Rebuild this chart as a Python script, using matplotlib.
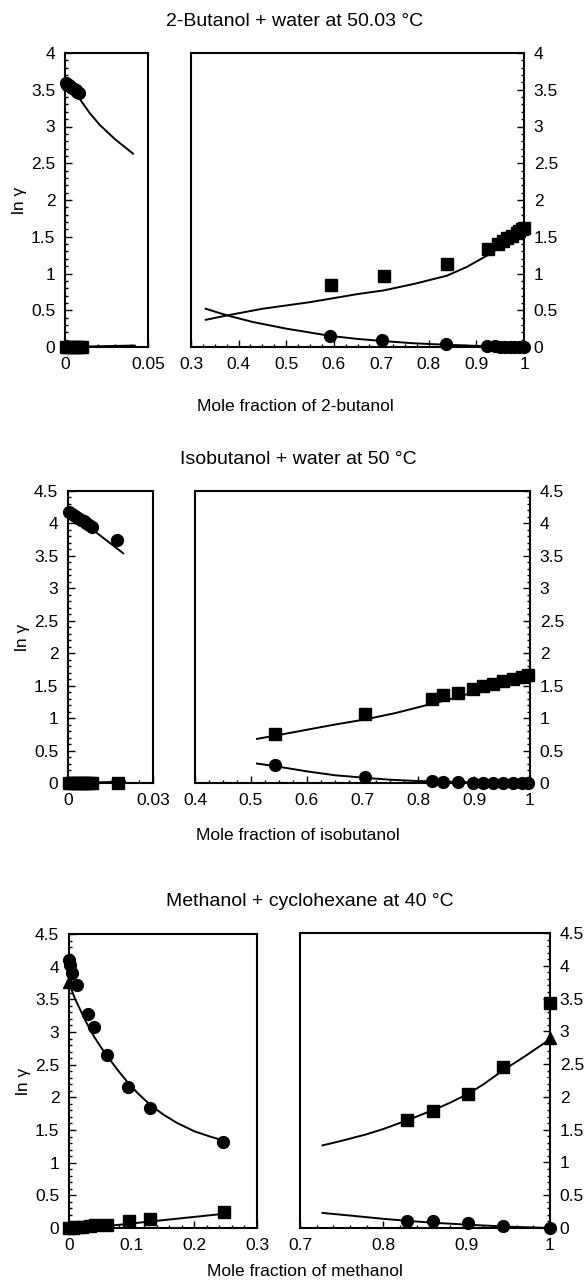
import numpy as np
import matplotlib
matplotlib.use('Agg')
import matplotlib.pyplot as plt
from matplotlib.ticker import MultipleLocator, FuncFormatter

plt.rcParams['font.family'] = ['Liberation Sans', 'DejaVu Sans']
plt.rcParams['font.size'] = 12.5

# ---- 2-Butanol + water at 50.03 C ----
bu_dil_circ_x = [0.0005, 0.0015, 0.0025, 0.0035, 0.0045, 0.0055, 0.0065, 0.0075, 0.0085]
bu_dil_circ_y = [3.59, 3.57, 3.56, 3.54, 3.52, 3.51, 3.49, 3.47, 3.45]
bu_dil_sq_x = [0.0005, 0.0025, 0.0045, 0.0065, 0.0085, 0.0105]
bu_dil_sq_y = [0.0, 0.0, 0.0, 0.0, 0.0, 0.0]
bu_dil_fit1_x = [0.0, 0.005, 0.009, 0.015, 0.021, 0.03, 0.041]
bu_dil_fit1_y = [3.60, 3.47, 3.37, 3.18, 3.02, 2.83, 2.63]
bu_dil_fit2_x = [0.0, 0.02, 0.042]
bu_dil_fit2_y = [0.0, 0.01, 0.02]

bu_sq_x = [0.594, 0.705, 0.838, 0.924, 0.945, 0.955, 0.965, 0.975, 0.985, 0.99, 0.995, 1.0]
bu_sq_y = [0.84, 0.96, 1.13, 1.33, 1.40, 1.44, 1.48, 1.51, 1.55, 1.58, 1.60, 1.62]
bu_circ_x = [0.592, 0.701, 0.835, 0.922, 0.94, 0.95, 0.96, 0.97, 0.98, 0.99, 1.0]
bu_circ_y = [0.15, 0.09, 0.04, 0.01, 0.01, 0.0, 0.0, 0.0, 0.0, 0.0, 0.0]
bu_fit_sq_x = [0.331, 0.376, 0.45, 0.55, 0.65, 0.705, 0.77, 0.838, 0.88, 0.924, 0.96, 1.0]
bu_fit_sq_y = [0.37, 0.43, 0.52, 0.61, 0.72, 0.77, 0.86, 0.97, 1.09, 1.25, 1.40, 1.58]
bu_fit_circ_x = [0.331, 0.376, 0.43, 0.5, 0.594, 0.65, 0.705, 0.77, 0.838, 0.924, 1.0]
bu_fit_circ_y = [0.52, 0.43, 0.34, 0.25, 0.15, 0.11, 0.08, 0.05, 0.03, 0.01, 0.0]

# ---- Isobutanol + water at 50 C ----
ib_dil_circ_x = [0.0005, 0.0015, 0.0025, 0.0035, 0.0045, 0.0055, 0.0065, 0.0075, 0.0085, 0.0173]
ib_dil_circ_y = [4.18, 4.15, 4.12, 4.09, 4.06, 4.03, 4.00, 3.97, 3.94, 3.74]
ib_dil_sq_x = [0.0005, 0.0015, 0.0025, 0.0035, 0.0045, 0.0055, 0.0065, 0.0075, 0.0085, 0.0177]
ib_dil_sq_y = [0.0] * 10
ib_dil_fit1_x = [0.0, 0.01, 0.0195]
ib_dil_fit1_y = [4.18, 3.86, 3.54]
ib_dil_fit2_x = [0.0, 0.01, 0.0195]
ib_dil_fit2_y = [0.0, 0.01, 0.02]

ib_sq_x = [0.543, 0.705, 0.824, 0.845, 0.871, 0.898, 0.916, 0.934, 0.952, 0.970, 0.986, 0.997]
ib_sq_y = [0.75, 1.06, 1.30, 1.35, 1.39, 1.45, 1.49, 1.53, 1.57, 1.61, 1.63, 1.66]
ib_circ_x = [0.543, 0.705, 0.824, 0.845, 0.871, 0.898, 0.916, 0.934, 0.952, 0.970, 0.986, 0.997]
ib_circ_y = [0.28, 0.09, 0.03, 0.02, 0.02, 0.0, 0.0, 0.0, 0.0, 0.0, 0.0, 0.0]
ib_fit_sq_x = [0.511, 0.55, 0.6, 0.65, 0.705, 0.76, 0.824, 0.86, 0.9, 0.95, 1.0]
ib_fit_sq_y = [0.68, 0.74, 0.82, 0.90, 0.98, 1.08, 1.22, 1.30, 1.40, 1.52, 1.66]
ib_fit_circ_x = [0.511, 0.543, 0.6, 0.65, 0.705, 0.75, 0.8, 0.9, 1.0]
ib_fit_circ_y = [0.30, 0.26, 0.18, 0.12, 0.08, 0.05, 0.03, 0.01, 0.0]

# ---- Methanol + cyclohexane at 40 C ----
me_dil_circ_x = [0.0, 0.002, 0.005, 0.013, 0.031, 0.040, 0.061, 0.0945, 0.129, 0.246]
me_dil_circ_y = [4.10, 4.02, 3.90, 3.72, 3.27, 3.08, 2.65, 2.16, 1.84, 1.31]
me_dil_sq_x = [0.0, 0.006, 0.012, 0.02, 0.033, 0.041, 0.061, 0.096, 0.130, 0.247]
me_dil_sq_y = [0.0, 0.0, 0.01, 0.02, 0.03, 0.04, 0.04, 0.10, 0.14, 0.24]
me_dil_tri_x = [0.0]
me_dil_tri_y = [3.77]
me_dil_fit1_x = [0.0, 0.005, 0.01, 0.02, 0.028, 0.04, 0.05, 0.061, 0.08, 0.0945,
                 0.11, 0.129, 0.15, 0.172, 0.2, 0.225, 0.246]
me_dil_fit1_y = [3.77, 3.62, 3.50, 3.30, 3.14, 2.93, 2.78, 2.63, 2.39, 2.22,
                 2.06, 1.89, 1.74, 1.61, 1.48, 1.40, 1.34]
me_dil_fit2_x = [0.0, 0.061, 0.13, 0.24]
me_dil_fit2_y = [0.0, 0.03, 0.10, 0.21]

me_sq_x = [0.828, 0.860, 0.902, 0.943, 1.0]
me_sq_y = [1.65, 1.79, 2.05, 2.45, 3.43]
me_circ_x = [0.828, 0.860, 0.902, 0.944, 1.0]
me_circ_y = [0.11, 0.10, 0.07, 0.03, 0.0]
me_tri_x = [1.0]
me_tri_y = [2.90]
me_fit_sq_x = [0.727, 0.75, 0.78, 0.8, 0.828, 0.86, 0.88, 0.902, 0.92, 0.943, 0.97, 1.0]
me_fit_sq_y = [1.26, 1.33, 1.43, 1.51, 1.64, 1.80, 1.91, 2.05, 2.19, 2.40, 2.62, 2.88]
me_fit_circ_x = [0.727, 0.76, 0.8, 0.828, 0.86, 0.902, 0.95, 1.0]
me_fit_circ_y = [0.23, 0.19, 0.14, 0.11, 0.08, 0.05, 0.02, 0.0]

W, H = 588, 1287
fig = plt.figure(figsize=(W / 100, H / 100), dpi=100)


def box(x0, x1, y0, y1):
    return [x0 / W, 1 - y1 / H, (x1 - x0) / W, (y1 - y0) / H]


fmt = FuncFormatter(lambda v, p: '%g' % round(v, 3))
MS = 8.5
LW = 1.4
TITLE = 14


def style(ax, side, xlim, xmajor, xminor, ylim):
    ax.set_xlim(*xlim)
    ax.set_ylim(*ylim)
    ax.xaxis.set_major_locator(MultipleLocator(xmajor))
    ax.xaxis.set_minor_locator(MultipleLocator(xminor))
    ax.yaxis.set_major_locator(MultipleLocator(0.5))
    ax.yaxis.set_minor_locator(MultipleLocator(0.1))
    ax.xaxis.set_major_formatter(fmt)
    ax.yaxis.set_major_formatter(fmt)
    for s in ax.spines.values():
        s.set_linewidth(1.5)
    ax.tick_params(which='both', direction='in', top=False, width=1.0,
                   left=(side == 'left'), right=(side == 'right'),
                   labelleft=(side == 'left'), labelright=(side == 'right'))
    ax.tick_params(which='major', length=5, pad=7)
    ax.tick_params(which='minor', length=2.5)


def pts(ax, x, y, m):
    ax.plot(x, y, m, color='black', ms=MS, ls='none', clip_on=False, zorder=3)


def fit(ax, x, y):
    ax.plot(x, y, color='black', lw=LW, zorder=2)


# panel 1
a = fig.add_axes(box(65, 148, 53, 347))
style(a, 'left', (0, 0.05), 0.05, 0.01, (0, 4))
fit(a, bu_dil_fit1_x, bu_dil_fit1_y)
fit(a, bu_dil_fit2_x, bu_dil_fit2_y)
pts(a, bu_dil_circ_x, bu_dil_circ_y, 'o')
pts(a, bu_dil_sq_x, bu_dil_sq_y, 's')
a.set_ylabel('ln γ', labelpad=3)

b = fig.add_axes(box(191, 524, 53, 347))
style(b, 'right', (0.3, 1.0), 0.1, 0.025, (0, 4))
fit(b, bu_fit_sq_x, bu_fit_sq_y)
fit(b, bu_fit_circ_x, bu_fit_circ_y)
pts(b, bu_sq_x, bu_sq_y, 's')
pts(b, bu_circ_x, bu_circ_y, 'o')
fig.text(295 / W, 1 - 22 / H, '2-Butanol + water at 50.03 °C', ha='center', va='center', fontsize=TITLE)
fig.text(295 / W, 1 - 406 / H, 'Mole fraction of 2-butanol', ha='center', va='center')

# panel 2
a = fig.add_axes(box(68, 153, 491, 783))
style(a, 'left', (0, 0.03), 0.03, 0.005, (0, 4.5))
fit(a, ib_dil_fit1_x, ib_dil_fit1_y)
fit(a, ib_dil_fit2_x, ib_dil_fit2_y)
pts(a, ib_dil_circ_x, ib_dil_circ_y, 'o')
pts(a, ib_dil_sq_x, ib_dil_sq_y, 's')
a.set_ylabel('ln γ', labelpad=3)

b = fig.add_axes(box(195, 530, 491, 783))
style(b, 'right', (0.4, 1.0), 0.1, 0.025, (0, 4.5))
fit(b, ib_fit_sq_x, ib_fit_sq_y)
fit(b, ib_fit_circ_x, ib_fit_circ_y)
pts(b, ib_sq_x, ib_sq_y, 's')
pts(b, ib_circ_x, ib_circ_y, 'o')
fig.text(298 / W, 1 - 460 / H, 'Isobutanol + water at 50 °C', ha='center', va='center', fontsize=TITLE)
fig.text(298 / W, 1 - 835 / H, 'Mole fraction of isobutanol', ha='center', va='center')

# panel 3
a = fig.add_axes(box(69, 257, 934, 1228))
style(a, 'left', (0, 0.3), 0.1, 0.02, (0, 4.5))
fit(a, me_dil_fit1_x, me_dil_fit1_y)
fit(a, me_dil_fit2_x, me_dil_fit2_y)
pts(a, me_dil_circ_x, me_dil_circ_y, 'o')
pts(a, me_dil_sq_x, me_dil_sq_y, 's')
pts(a, me_dil_tri_x, me_dil_tri_y, '^')
a.set_ylabel('ln γ', labelpad=3)

b = fig.add_axes(box(300, 550, 933, 1228))
style(b, 'right', (0.7, 1.0), 0.1, 0.02, (0, 4.5))
fit(b, me_fit_sq_x, me_fit_sq_y)
fit(b, me_fit_circ_x, me_fit_circ_y)
pts(b, me_sq_x, me_sq_y, 's')
pts(b, me_circ_x, me_circ_y, 'o')
pts(b, me_tri_x, me_tri_y, '^')
fig.text(310 / W, 1 - 902 / H, 'Methanol + cyclohexane at 40 °C', ha='center', va='center', fontsize=TITLE)
fig.text(305 / W, 1 - 1272 / H, 'Mole fraction of methanol', ha='center', va='center')

fig.savefig('out.png', dpi=100)
